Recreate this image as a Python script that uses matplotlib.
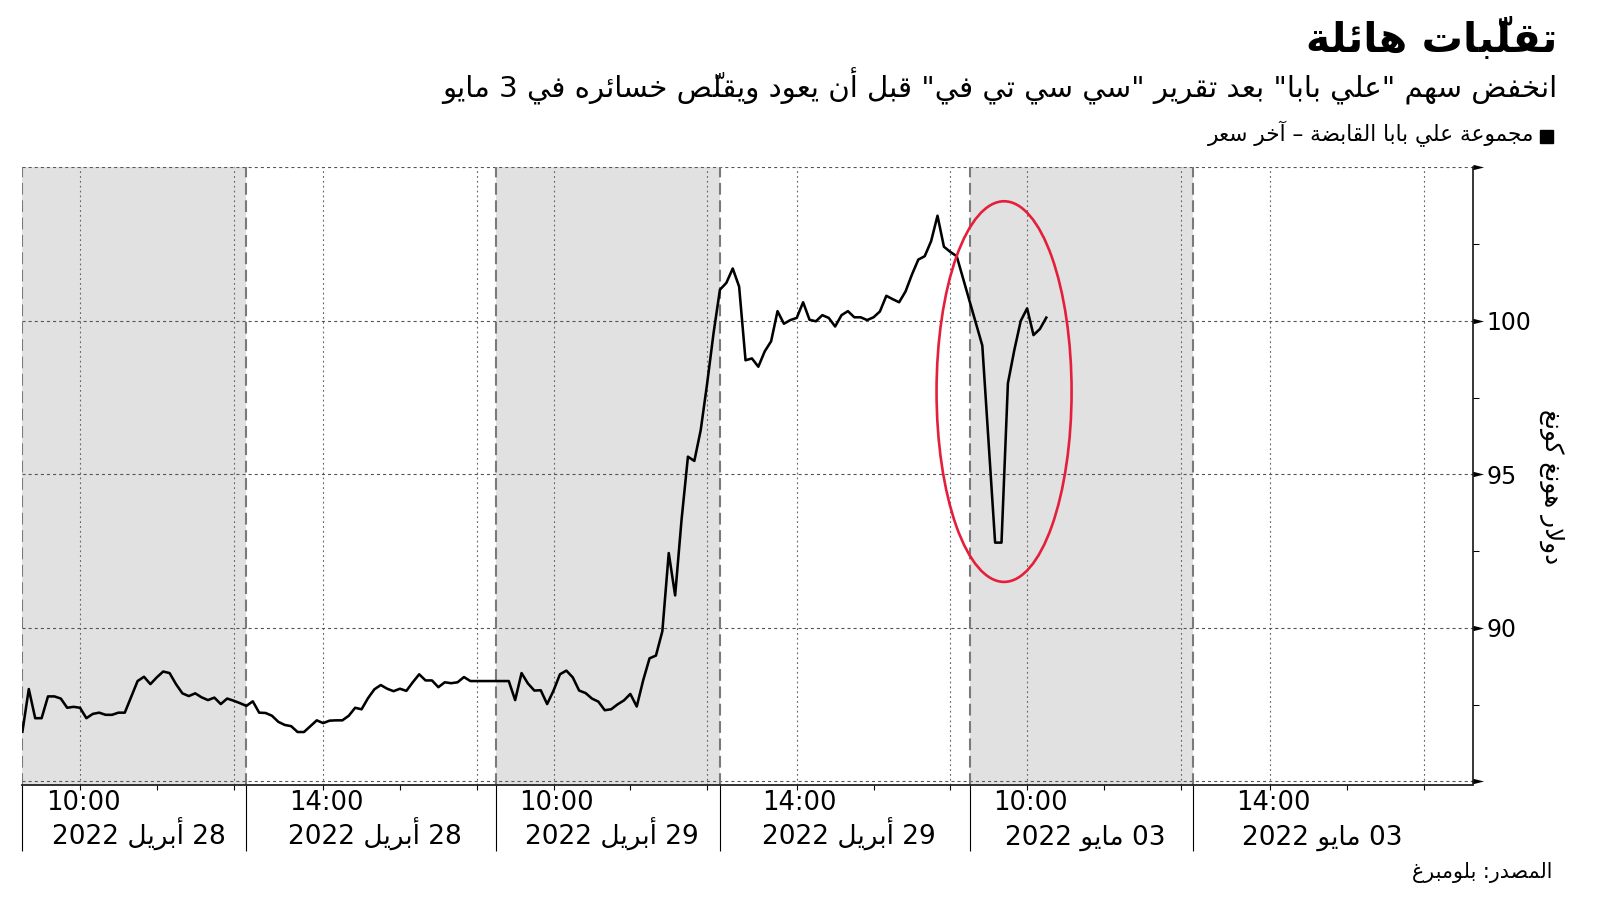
import numpy as np
import matplotlib
matplotlib.use("Agg")
import matplotlib.pyplot as plt
import matplotlib.transforms as mtransforms
from matplotlib.patches import Rectangle, Ellipse
from matplotlib.path import Path

plt.rcParams['font.family'] = ['DejaVu Sans']
plt.rcParams['lines.scale_dashes'] = False

# ------------------------------------------------------------------ data
title = "تقلّبات هائلة"
subtitle = 'انخفض سهم "علي بابا" بعد تقرير "سي سي تي في" قبل أن يعود ويقلّص خسائره في 3 مايو'
legend_label = "مجموعة علي بابا القابضة – آخر سعر"
y_label = "دولار هونغ كونغ"
source = "المصدر: بلومبرغ"

day_labels = ["28 أبريل 2022", "29 أبريل 2022", "03 مايو 2022"]
session_open = ["09:15", "13:00"]      # morning / afternoon session start
session_close = ["12:10", "16:15"]     # morning / afternoon session end
bar_minutes = 5
hour_ticks = ["10:00", "11:00", "12:00", "14:00", "15:00", "16:00"]
grid_hours = ["10:00", "12:00", "14:00", "16:00"]
labeled_hours = ["10:00", "14:00"]     # one label per session

y_ticks = [90, 95, 100]
y_minor = [87.5, 92.5, 97.5, 102.5]
y_arrows = [85, 90, 95, 100, 105]
y_min, y_max = 85, 105

# 5-minute bars per trading day, counted from the morning open
# (None = no bar; the line joins straight over it)
price_apr28 = [86.62, 88.01, 87.06, 87.06, 87.77, 87.77, 87.70, 87.40, 87.43, 87.40,
               87.06, 87.20, 87.24, 87.17, 87.17, 87.24, 87.24, None, 88.27, 88.41,
               88.17, 88.39, 88.58, 88.53, 88.17, 87.87, 87.78, 87.87, 87.74, 87.65,
               87.73, 87.52, 87.70, 87.63, 87.55, 87.46, 87.61, 87.24, 87.23, 87.14,
               86.94, 86.84, 86.80, 86.61, 86.61, 86.80, 86.99, 86.90, 86.98, 86.99,
               86.99, 87.14, 87.40, 87.35, 87.71, 88.00, 88.14, 88.02, 87.94, 88.02,
               87.95, 88.23, 88.49, 88.29, 88.29, 88.07, 88.23, 88.20, 88.23, 88.40,
               88.27]
price_apr29 = [None, None, 88.27, 87.65, 88.53, 88.19, 87.96, 87.97, 87.52, 87.96,
               88.49, 88.61, 88.39, 87.96, 87.88, 87.70, 87.60, 87.32, 87.35, 87.51,
               87.64, 87.85, 87.44, 88.29, 89.01, 89.10, 89.89, 92.44, 91.06, 93.52,
               95.58, 95.44, 96.45, 97.96, 99.60, 101.02, 101.24, 101.71, 101.12, 98.72,
               98.78, 98.51, 99.01, 99.34, 100.32, 99.91, 100.03, 100.10, 100.61, 100.04,
               99.99, 100.19, 100.10, 99.82, 100.19, 100.32, 100.12, 100.12, 100.03, 100.12,
               100.31, 100.82, 100.71, 100.61, 100.96, 101.51, 102.00, 102.11, 102.60, 103.43,
               102.42, 102.25, 102.11]
price_may03 = [None, None, 99.20, None, 92.78, 92.78, 97.97, 99.05, 100.00, 100.41,
               99.54, 99.74, 100.11]
prices = [price_apr28, price_apr29, price_may03]

# highlight ellipse around the 3 May plunge
hl_day, hl_time, hl_width_bars = 2, "09:42", 21.1
hl_y_center, hl_y_height = 97.7, 12.4

# ------------------------------------------------------------------ arabic shaping
FORMS = {
 '\u0621': ('\uFE80', None, None, None), '\u0622': ('\uFE81', '\uFE82', None, None),
 '\u0623': ('\uFE83', '\uFE84', None, None), '\u0624': ('\uFE85', '\uFE86', None, None),
 '\u0625': ('\uFE87', '\uFE88', None, None), '\u0626': ('\uFE89', '\uFE8A', '\uFE8B', '\uFE8C'),
 '\u0627': ('\uFE8D', '\uFE8E', None, None), '\u0628': ('\uFE8F', '\uFE90', '\uFE91', '\uFE92'),
 '\u0629': ('\uFE93', '\uFE94', None, None), '\u062A': ('\uFE95', '\uFE96', '\uFE97', '\uFE98'),
 '\u062B': ('\uFE99', '\uFE9A', '\uFE9B', '\uFE9C'), '\u062C': ('\uFE9D', '\uFE9E', '\uFE9F', '\uFEA0'),
 '\u062D': ('\uFEA1', '\uFEA2', '\uFEA3', '\uFEA4'), '\u062E': ('\uFEA5', '\uFEA6', '\uFEA7', '\uFEA8'),
 '\u062F': ('\uFEA9', '\uFEAA', None, None), '\u0630': ('\uFEAB', '\uFEAC', None, None),
 '\u0631': ('\uFEAD', '\uFEAE', None, None), '\u0632': ('\uFEAF', '\uFEB0', None, None),
 '\u0633': ('\uFEB1', '\uFEB2', '\uFEB3', '\uFEB4'), '\u0634': ('\uFEB5', '\uFEB6', '\uFEB7', '\uFEB8'),
 '\u0635': ('\uFEB9', '\uFEBA', '\uFEBB', '\uFEBC'), '\u0636': ('\uFEBD', '\uFEBE', '\uFEBF', '\uFEC0'),
 '\u0637': ('\uFEC1', '\uFEC2', '\uFEC3', '\uFEC4'), '\u0638': ('\uFEC5', '\uFEC6', '\uFEC7', '\uFEC8'),
 '\u0639': ('\uFEC9', '\uFECA', '\uFECB', '\uFECC'), '\u063A': ('\uFECD', '\uFECE', '\uFECF', '\uFED0'),
 '\u0641': ('\uFED1', '\uFED2', '\uFED3', '\uFED4'), '\u0642': ('\uFED5', '\uFED6', '\uFED7', '\uFED8'),
 '\u0643': ('\uFED9', '\uFEDA', '\uFEDB', '\uFEDC'), '\u0644': ('\uFEDD', '\uFEDE', '\uFEDF', '\uFEE0'),
 '\u0645': ('\uFEE1', '\uFEE2', '\uFEE3', '\uFEE4'), '\u0646': ('\uFEE5', '\uFEE6', '\uFEE7', '\uFEE8'),
 '\u0647': ('\uFEE9', '\uFEEA', '\uFEEB', '\uFEEC'), '\u0648': ('\uFEED', '\uFEEE', None, None),
 '\u0649': ('\uFEEF', '\uFEF0', None, None), '\u064A': ('\uFEF1', '\uFEF2', '\uFEF3', '\uFEF4'),
}
LAM_ALEF = {'\u0622': ('\uFEF5', '\uFEF6'), '\u0623': ('\uFEF7', '\uFEF8'),
            '\u0625': ('\uFEF9', '\uFEFA'), '\u0627': ('\uFEFB', '\uFEFC')}


def _is_mark(c):
    return '\u064B' <= c <= '\u065F' or c == '\u0670'


def _jt(b):
    if len(b) == 2:
        return 'R'
    f = FORMS.get(b)
    if f is None or f[1] is None:
        return None
    return 'D' if f[2] else 'R'


def _shape(s):
    cl = []
    for ch in s:
        if _is_mark(ch) and cl:
            cl[-1][1].append(ch)
        else:
            cl.append([ch, []])
    merged, i = [], 0
    while i < len(cl):
        b, m = cl[i]
        if b == '\u0644' and i + 1 < len(cl) and cl[i + 1][0] in LAM_ALEF:
            merged.append([b + cl[i + 1][0], m + cl[i + 1][1]])
            i += 2
        else:
            merged.append([b, m])
            i += 1
    out = []
    n = len(merged)
    for i, (b, m) in enumerate(merged):
        t = _jt(b)
        if t is None:
            out.append(b + ''.join(m))
            continue
        jp = i > 0 and _jt(merged[i - 1][0]) == 'D'
        jn = t == 'D' and i + 1 < n and _jt(merged[i + 1][0]) in ('D', 'R')
        if len(b) == 2:
            iso, fin = LAM_ALEF[b[1]]
            g = fin if jp else iso
        else:
            iso, fin, ini, med = FORMS[b]
            g = med if (jp and jn) else fin if jp else ini if jn else iso
        # marks first: in left-to-right drawing they then sit over their base
        out.append(''.join(m) + g)
    return out


def _ltr(c):
    return c[0].isascii() and c[0].isalnum()


def ar(s):
    if not any('\u0600' <= c <= '\u06FF' for c in s):
        return s
    cl = _shape(s)
    runs, i, n = [], 0, len(cl)
    while i < n:
        j = i
        if _ltr(cl[i]):
            while j + 1 < n and (_ltr(cl[j + 1]) or (cl[j + 1][0] in ':.,' and j + 2 < n and _ltr(cl[j + 2]))):
                j += 1
            runs.append((True, cl[i:j + 1]))
        else:
            while j + 1 < n and not _ltr(cl[j + 1]):
                j += 1
            runs.append((False, cl[i:j + 1]))
        i = j + 1
    res = []
    for is_ltr, seg in reversed(runs):
        res.extend(seg if is_ltr else reversed(seg))
    return ''.join(res)

# ------------------------------------------------------------------ time axis
def tmin(s):
    h, m = map(int, s.split(':'))
    return 60 * h + m


am_bars = (tmin(session_close[0]) - tmin(session_open[0])) // bar_minutes
pm_bars = (tmin(session_close[1]) - tmin(session_open[1])) // bar_minutes
day_bars = am_bars + pm_bars


def slot(day, hhmm):
    t = tmin(hhmm)
    if t <= tmin(session_close[0]):
        k = (t - tmin(session_open[0])) / bar_minutes
    else:
        k = am_bars + (t - tmin(session_open[1])) / bar_minutes
    return day * day_bars + k


xs, ys = [], []
for d, series in enumerate(prices):
    for k, p in enumerate(series):
        if p is not None:
            xs.append(d * day_bars + k)
            ys.append(p)

n_days = len(day_labels)
x_end = n_days * day_bars
x_right = x_end + 4.6

# ------------------------------------------------------------------ figure
W, H = 1600, 901
fig = plt.figure(figsize=(W / 100, H / 100), dpi=100)
fig.patch.set_facecolor('white')


def fx(px):
    return px / W


def fy(py):
    return 1 - py / H


ax = fig.add_axes([fx(22.4), fy(784.5), (1472.5 - 22.4) / W, (784.5 - 167.5) / H])
ax.set_xlim(0, x_right)
ax.set_ylim(y_min - 0.1, y_max)
ax.set_facecolor('white')

# session shading (morning sessions) and boundaries
boundaries = []
for d in range(n_days):
    a = slot(d, session_open[0])
    b = slot(d, session_open[1])
    ax.axvspan(a, b, color='#e1e1e1', lw=0, zorder=0)
    boundaries += [a, b]
for bnd in boundaries:
    ax.axvline(bnd, color='#7a7a7a', lw=1.5, ls=(0, (8.5, 4)), zorder=2)

# vertical dotted grid
for d in range(n_days):
    for h in grid_hours:
        ax.axvline(slot(d, h), color='#666666', lw=0.8, ls=(0, (1.3, 2.2)), zorder=1)
# horizontal dashed grid
for yv in y_arrows:
    ax.axhline(yv, color='#555555', lw=0.8, ls=(0, (2.2, 2.2)), zorder=1)

# price line
ax.plot(xs, ys, color='black', lw=1.85, solid_joinstyle='round', zorder=5)

# highlight ellipse
ax.add_patch(Ellipse((slot(hl_day, hl_time), hl_y_center), hl_width_bars, hl_y_height,
                     fill=False, ec='#e51f3b', lw=1.9, zorder=6, clip_on=False))

# spines
for s in ['left', 'top']:
    ax.spines[s].set_visible(False)
ax.spines['right'].set_linewidth(1.1)
ax.spines['right'].set_color('black')
ax.spines['bottom'].set_linewidth(1.3)
ax.spines['bottom'].set_color('#222222')

# y axis on right
ax.yaxis.set_ticks_position('right')
ax.set_yticks(y_ticks)
ax.set_yticks(y_minor, minor=True)
ax.set_yticklabels([str(v) for v in y_ticks])
ax.tick_params(axis='y', which='major', length=0, pad=10.2, labelsize=17,
               right=True, left=False, labelright=True, labelleft=False)
ax.tick_params(axis='y', which='minor', length=4.1, width=0.75, color='black',
               right=True, left=False)
tri = Path([(0, -0.25), (1, 0), (0, 0.25), (0, -0.25)],
           [Path.MOVETO, Path.LINETO, Path.LINETO, Path.CLOSEPOLY])
ax.plot(np.ones(len(y_arrows)), y_arrows, ls='none', marker=tri, ms=15.3,
        mfc='black', mec='black', mew=0, clip_on=False, zorder=7,
        transform=ax.get_yaxis_transform())

# x axis ticks
ax.set_xticks(boundaries)
hour_pos = [slot(d, h) for d in range(n_days) for h in hour_ticks]
ax.set_xticks(hour_pos, minor=True)
ax.tick_params(axis='x', which='major', length=47.5, width=0.8, color='black',
               labelbottom=False, direction='out')
ax.tick_params(axis='x', which='minor', length=3.6, width=0.8, color='black',
               direction='out')

xt = ax.get_xaxis_transform()
hour_tr = mtransforms.offset_copy(xt, fig=fig, x=3, y=-25.5, units='dots')
date_tr = mtransforms.offset_copy(xt, fig=fig, x=4, y=-60.5, units='dots')
for d in range(n_days):
    regions = [(slot(d, session_open[0]), slot(d, session_open[1])),
               (slot(d, session_open[1]), (d + 1) * day_bars)]
    for (a, b), h in zip(regions, labeled_hours):
        ax.text(slot(d, h), 0, h, transform=hour_tr, ha='center', va='baseline',
                fontsize=18.5, color='black')
        ax.text((a + b) / 2, 0, ar(day_labels[d]), transform=date_tr, ha='center',
                va='baseline', fontsize=19, color='black')

# texts
t_title = fig.text(fx(1557), fy(52), ar(title), ha='right', va='baseline',
                   fontsize=28, fontweight='bold', color='black')
t_sub = fig.text(fx(1557), fy(97), ar(subtitle), ha='right', va='baseline',
                 fontsize=19, color='black')
t_leg = fig.text(fx(1534), fy(141), ar(legend_label), ha='right', va='baseline',
                 fontsize=13, color='black')
fig.patches.append(Rectangle((fx(1540), fy(143)), 13 / W, 13 / H,
                             transform=fig.transFigure, color='black'))
t_src = fig.text(fx(1552), fy(878), ar(source), ha='right', va='baseline',
                 fontsize=13, color='black')
t_yl = fig.text(fx(1552), fy(487), ar(y_label), ha='center', va='center',
                rotation=270, fontsize=14, color='black')

fig.canvas.draw()
r = fig.canvas.get_renderer()


def fit_w(t, target):
    bb = t.get_window_extent(renderer=r)
    t.set_fontsize(t.get_fontsize() * target / bb.width)


def fit_h(t, target):
    bb = t.get_window_extent(renderer=r)
    t.set_fontsize(t.get_fontsize() * target / bb.height)


fit_w(t_title, 251)
fit_w(t_sub, 1115)
fit_w(t_leg, 327)
fit_w(t_src, 140)
fit_h(t_yl, 156)

fig.savefig('out.png', dpi=100, facecolor='white')
